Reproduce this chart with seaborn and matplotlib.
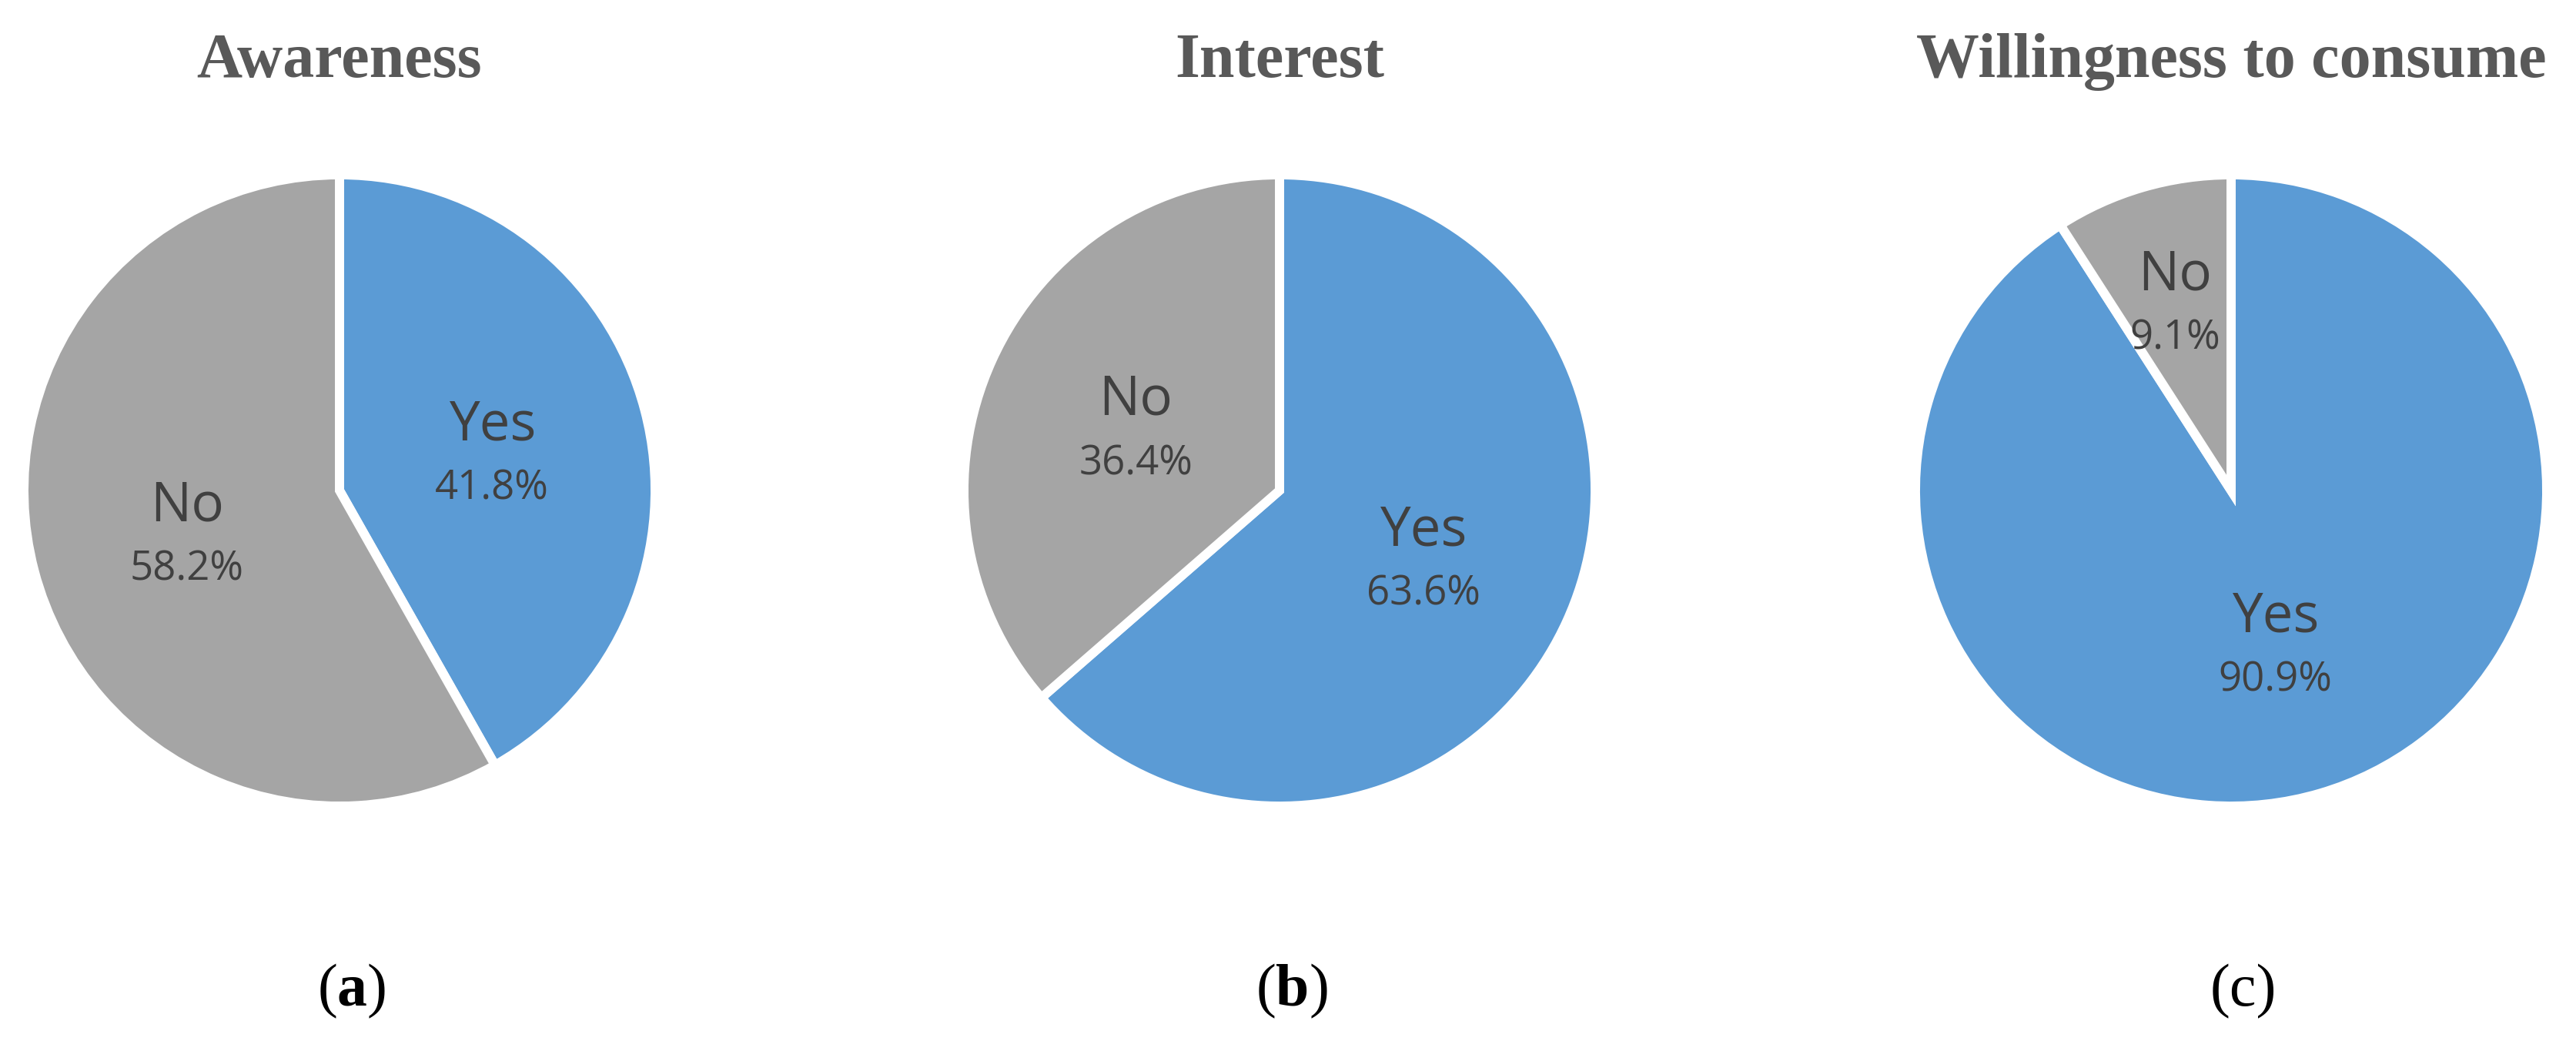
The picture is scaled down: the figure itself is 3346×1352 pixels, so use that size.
import numpy as np
import seaborn as sns
import matplotlib.pyplot as plt

# data
titles = ["Awareness", "Interest", "Willingness to consume"]
tags = [r"$\mathbf{a}$", r"$\mathbf{b}$", "c"]
categories = ["Yes", "No"]
yes_pct = [41.8, 63.6, 90.9]
no_pct = [58.2, 36.4, 9.1]

sns.set_theme(style="white")
plt.rcParams["mathtext.fontset"] = "custom"
plt.rcParams["mathtext.rm"] = "Liberation Serif"
plt.rcParams["mathtext.bf"] = "Liberation Serif:bold"

colors = ["#5B9BD5", "#A5A5A5"]
W, H = 3346, 1352
fig = plt.figure(figsize=(W / 100, H / 100), dpi=100)
fig.patch.set_facecolor("white")

# layout in pixels
pie_cx = [441, 1662, 2898]
cy, R = 637, 410

for i in range(3):
    ax = fig.add_axes([(pie_cx[i] - R) / W, (H - cy - R) / H, 2 * R / W, 2 * R / H])
    vals = [yes_pct[i], no_pct[i]]
    wedges, _ = ax.pie(vals, colors=colors, startangle=90, counterclock=False,
                       radius=1, wedgeprops=dict(edgecolor="white", linewidth=8.6))
    for w in wedges:
        w.set_clip_on(False)
    ax.set_xlim(-1, 1)
    ax.set_ylim(-1, 1)
    ax.set_aspect("equal")
    ax.axis("off")

    for w, cat, v in zip(wedges, categories, vals):
        mid = np.deg2rad((w.theta1 + w.theta2) / 2)
        d = 0.63 if v < 15 else 0.5
        x, y = d * np.cos(mid), d * np.sin(mid)
        ax.text(x, y + 0.032, cat, ha="center", va="baseline", fontsize=51,
                family="Open Sans", color="#404040")
        ax.text(x, y - 0.156, f"{v:.1f}%", ha="center", va="baseline", fontsize=38,
                family="Open Sans", color="#404040")

    fig.text(pie_cx[i] / W, 1 - 100 / H, titles[i], ha="center", va="baseline",
             fontsize=59, fontweight="bold", family="Liberation Serif", color="#595959")
    fig.text((pie_cx[i] + 16) / W, 1 - 1306 / H, "(" + tags[i] + ")",
             ha="center", va="baseline", fontsize=56, family="Liberation Serif",
             color="black")

plt.savefig("out.png", dpi=100, facecolor="white")
